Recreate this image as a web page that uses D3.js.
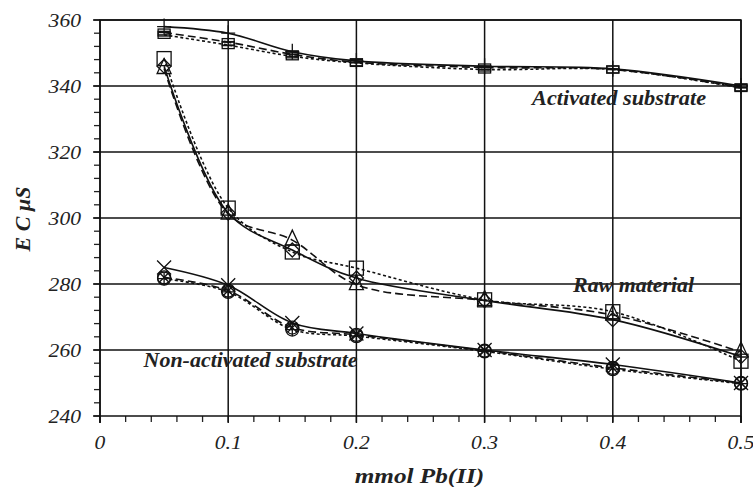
<!DOCTYPE html>
<html>
<head>
<meta charset="utf-8">
<script src="https://cdn.jsdelivr.net/npm/d3@7"></script>
<style>
  body { margin: 0; background: #fff; }
  svg text { font-family: "Liberation Serif", "DejaVu Serif", serif; fill: #222; }
</style>
</head>
<body>
<div id="chart"></div>
<script>
// x values (mmol Pb(II))
const doses = [0.05, 0.1, 0.15, 0.2, 0.3, 0.4, 0.5];

// Activated substrate
const actA = [358, 356, 350.4, 347.6, 346, 345.2, 340];
const actB = [356.2, 353.3, 349.6, 347.2, 345.6, 345.0, 339.6];
const actC = [355.5, 352.4, 349.0, 347.0, 345.0, 345.0, 339.4];

// Raw material
const rawDiamond = [346, 301.5, 290.3, 281.8, 275, 269.2, 258];
const rawTriangle = [345.3, 301.2, 293.3, 279.8, 275, 270.6, 259.4];
const rawSquare = [348.3, 303, 289.7, 284.8, 275.2, 271.6, 256.6];

// Non-activated substrate
const nonCross = [285, 279.6, 268.2, 265, 260, 255.6, 250];
const nonCircA = [282, 278, 266.8, 264.6, 259.8, 254.6, 250];
const nonCircB = [281.6, 277.6, 266.2, 264.2, 259.6, 254.2, 249.8];

const xTicks = [0, 0.1, 0.2, 0.3, 0.4, 0.5];
const yTicks = [240, 260, 280, 300, 320, 340, 360];

(function() {
  'use strict';

  const width = 753, height = 487,
        margin = {top: 20, right: 12, bottom: 71, left: 100},
        W = width - margin.left - margin.right,
        H = height - margin.top - margin.bottom;

  const svg = d3.select('#chart').append('svg')
    .attr('width', width).attr('height', height);

  const g = svg.append('g')
    .attr('transform', `translate(${margin.left},${margin.top})`);

  const x = d3.scaleLinear().domain([0, 0.5]).range([0, W]),
        y = d3.scaleLinear().domain([240, 360]).range([H, 0]);

  // minor ticks
  const xMinor = d3.range(0, 0.5001, 0.02),
        yMinor = d3.range(240, 360.01, 4);

  g.selectAll('.xminor').data(xMinor).enter().append('line')
    .attr('x1', d => x(d)).attr('x2', d => x(d))
    .attr('y1', H).attr('y2', H + 6)
    .attr('stroke', '#222').attr('stroke-width', 1.3);

  g.selectAll('.yminor').data(yMinor).enter().append('line')
    .attr('x1', -6).attr('x2', 0)
    .attr('y1', d => y(d)).attr('y2', d => y(d))
    .attr('stroke', '#222').attr('stroke-width', 1.3);

  // grid lines
  g.selectAll('.vgrid').data(xTicks).enter().append('line')
    .attr('x1', d => x(d)).attr('x2', d => x(d))
    .attr('y1', 0).attr('y2', H + 7)
    .attr('stroke', '#111').attr('stroke-width', 1.5);

  g.selectAll('.hgrid').data(yTicks).enter().append('line')
    .attr('x1', -7).attr('x2', W)
    .attr('y1', d => y(d)).attr('y2', d => y(d))
    .attr('stroke', '#111').attr('stroke-width', 1.5);

  // tick labels (the source picture is stretched sideways)
  g.selectAll('.xlab').data(xTicks).enter().append('text')
    .attr('transform', d => `translate(${x(d)},${H + 33}) scale(1.2,1)`)
    .attr('text-anchor', 'middle')
    .style('font-size', '18px').style('font-style', 'italic')
    .text(d => d);

  g.selectAll('.ylab').data(yTicks).enter().append('text')
    .attr('transform', d => `translate(-19,${y(d) + 7}) scale(1.2,1)`)
    .attr('text-anchor', 'end')
    .style('font-size', '18px').style('font-style', 'italic')
    .text(d => d);

  // axis titles
  svg.append('text')
    .attr('transform', `translate(${margin.left + W / 2 - 1},483) scale(1.2,1)`)
    .attr('text-anchor', 'middle')
    .style('font-size', '21px').style('font-weight', 'bold').style('font-style', 'italic')
    .text('mmol Pb(II)');

  svg.append('text')
    .attr('transform', 'translate(30,219) rotate(-90)')
    .attr('text-anchor', 'middle')
    .style('font-size', '22px').style('font-weight', 'bold').style('font-style', 'italic')
    .text('E C  μS');

  const line = d3.line()
    .x((d, i) => x(doses[i]))
    .y(d => y(d))
    .curve(d3.curveCatmullRom.alpha(0.5));

  const series = [
    {v: actA, dash: null, mark: 'plus'},
    {v: actB, dash: '8,4', mark: 'flat'},
    {v: actC, dash: '3,2.5', mark: 'flat'},
    {v: rawDiamond, dash: null, mark: 'diamond'},
    {v: rawTriangle, dash: '8,4', mark: 'triangle'},
    {v: rawSquare, dash: '3,2.5', mark: 'square'},
    {v: nonCross, dash: null, mark: 'cross'},
    {v: nonCircA, dash: '8,4', mark: 'circX'},
    {v: nonCircB, dash: '3,2.5', mark: 'circPlus'}
  ];

  series.forEach(s => {
    g.append('path')
      .attr('d', line(s.v))
      .attr('fill', 'none')
      .attr('stroke', '#111')
      .attr('stroke-width', 1.6)
      .attr('stroke-dasharray', s.dash);
  });

  // markers
  const drawMark = (type, cx, cy) => {
    const m = g.append('g').attr('transform', `translate(${cx},${cy})`)
      .attr('fill', 'none').attr('stroke', '#111').attr('stroke-width', 1.3);
    switch (type) {
      case 'plus':
        m.append('path').attr('d', 'M-7,0H7M0,-8V8');
        break;
      case 'flat':
        m.append('rect').attr('x', -6).attr('y', -3.5).attr('width', 12).attr('height', 7);
        m.append('path').attr('d', 'M-6,0H6');
        break;
      case 'diamond':
        m.append('path').attr('d', 'M0,-7L7,0L0,7L-7,0Z');
        break;
      case 'triangle':
        m.append('path').attr('d', 'M0,-10L7,5H-7Z');
        break;
      case 'square':
        m.append('rect').attr('x', -7).attr('y', -7).attr('width', 14).attr('height', 14);
        break;
      case 'cross':
        m.append('path').attr('d', 'M-7,-7L7,7M7,-7L-7,7');
        break;
      case 'circX':
        m.append('circle').attr('r', 6.5);
        m.append('path').attr('d', 'M-4.6,-4.6L4.6,4.6M4.6,-4.6L-4.6,4.6');
        break;
      case 'circPlus':
        m.append('circle').attr('r', 6.5);
        m.append('path').attr('d', 'M-6.5,0H6.5M0,-6.5V6.5');
        break;
      default:
        break;
    }
  };

  series.forEach(s => {
    s.v.forEach((d, i) => drawMark(s.mark, x(doses[i]), y(d)));
  });

  // frame
  g.append('path')
    .attr('d', `M0,${H + 7}V0H${W}V${H + 7}`)
    .attr('fill', 'none').attr('stroke', '#111').attr('stroke-width', 1.5);

  // group labels
  const labels = [
    {t: 'Activated substrate', x: 0.337, v: 334.3, len: 174},
    {t: 'Raw material', x: 0.369, v: 277.6, len: 121},
    {t: 'Non-activated substrate', x: 0.034, v: 254.8, len: 214}
  ];
  g.selectAll('.glab').data(labels).enter().append('text')
    .attr('x', d => x(d.x)).attr('y', d => y(d.v))
    .attr('textLength', d => d.len).attr('lengthAdjust', 'spacingAndGlyphs')
    .style('font-size', '20px').style('font-weight', 'bold').style('font-style', 'italic')
    .text(d => d.t);
})();
</script>
</body>
</html>
